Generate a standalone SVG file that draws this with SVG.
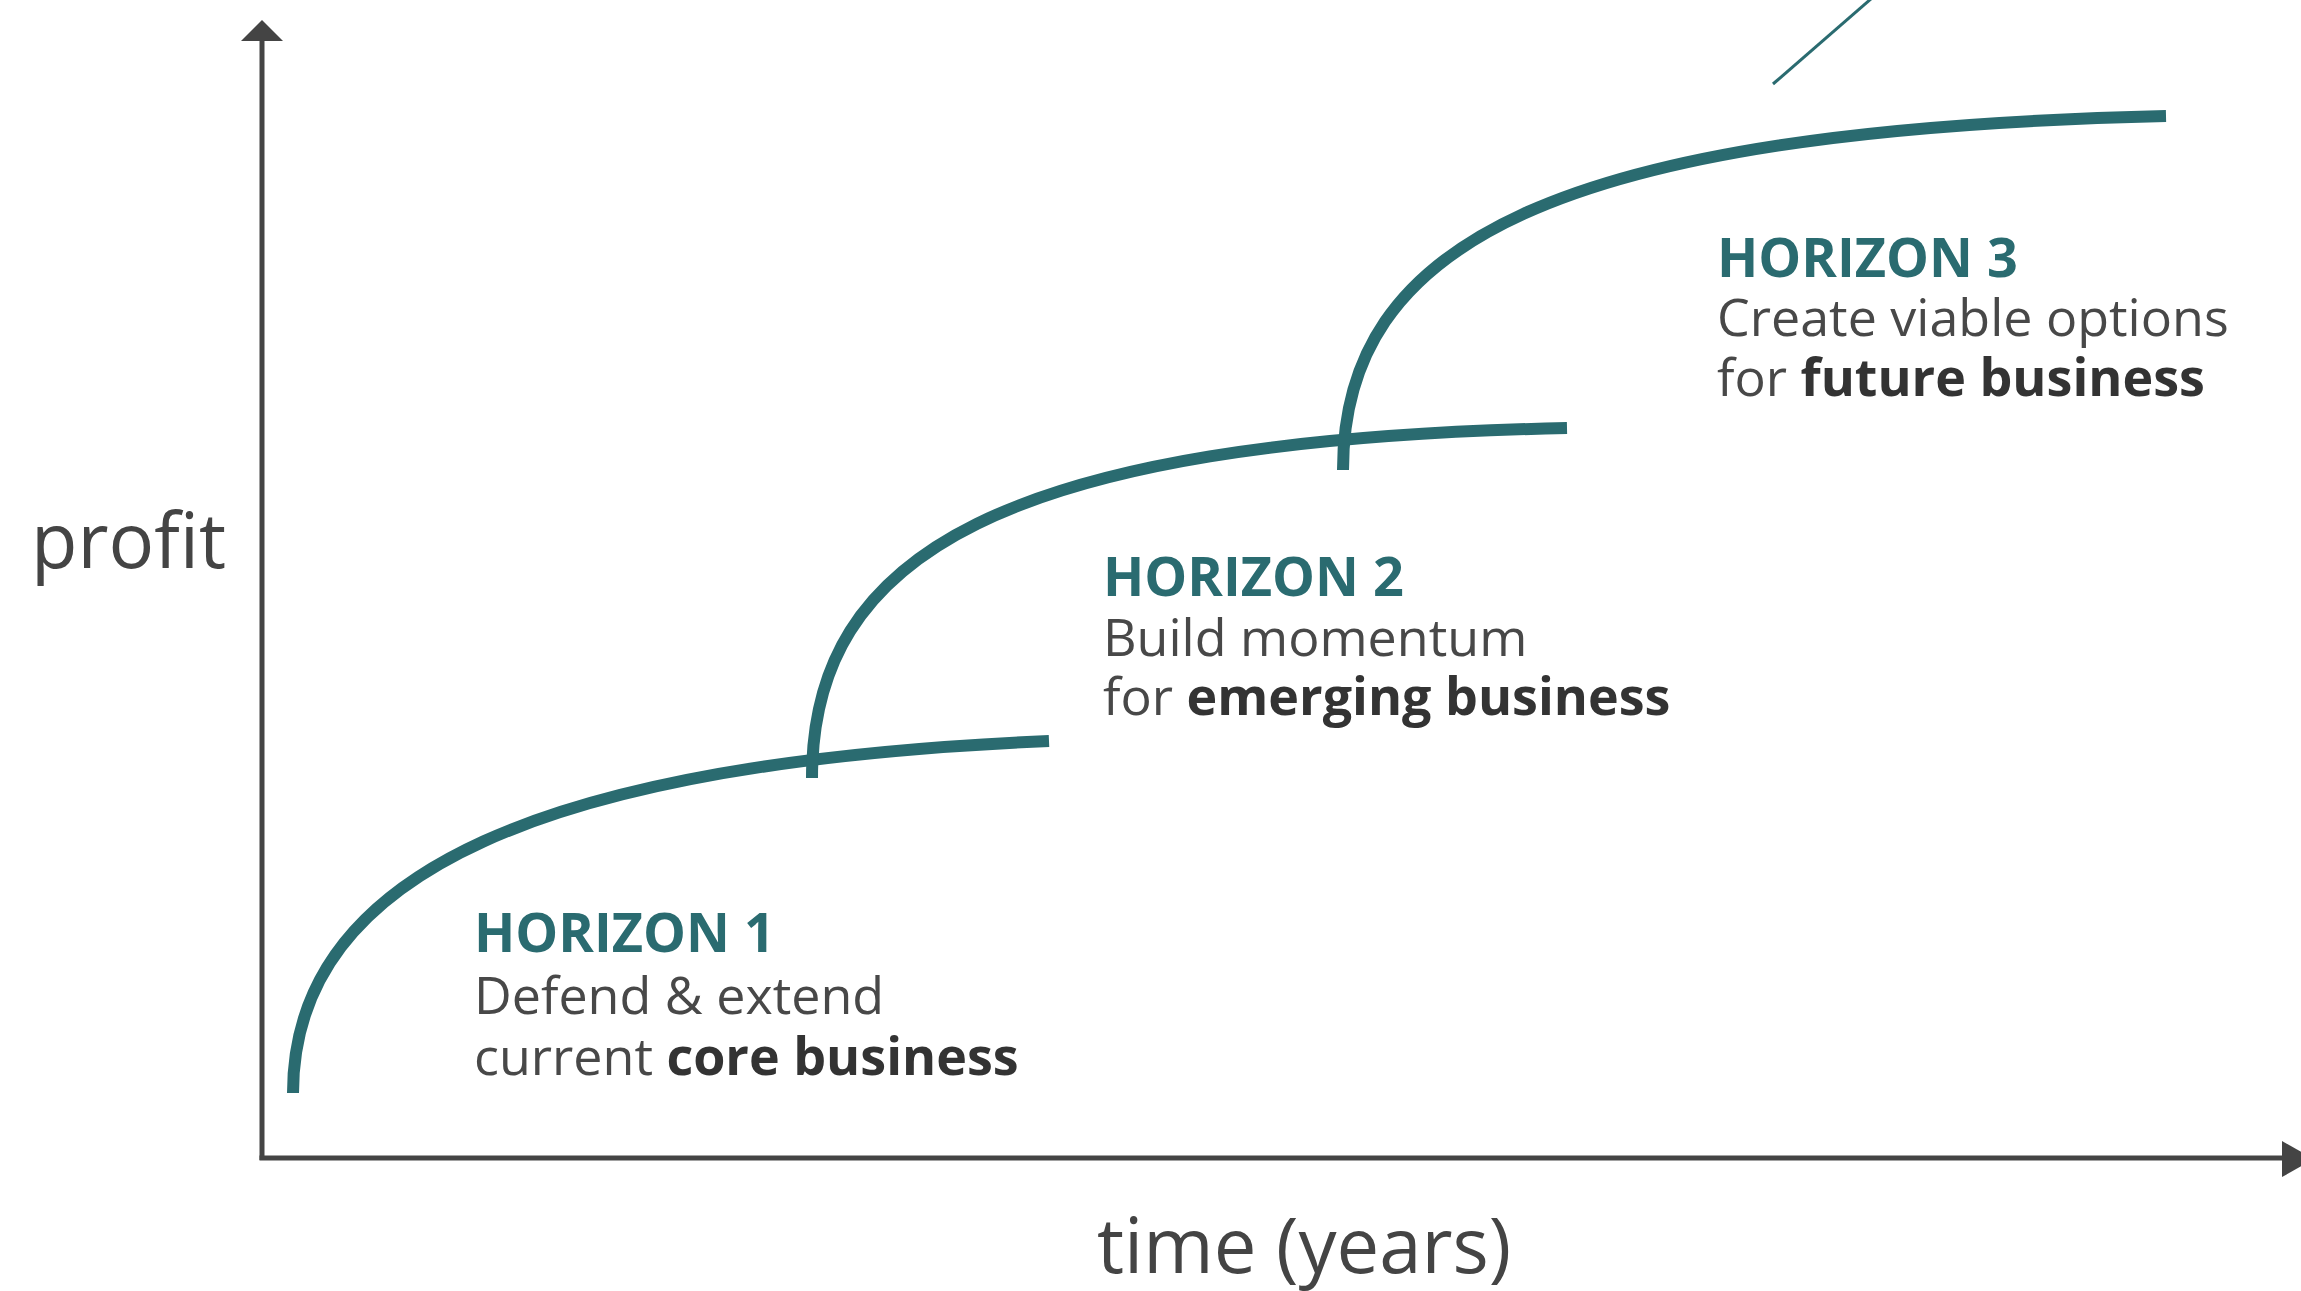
<svg xmlns="http://www.w3.org/2000/svg" width="2301" height="1291" viewBox="0 0 2301 1291">
<style>
.axis{stroke:#444;stroke-width:5;fill:none}
.head{fill:#444}
.curve{stroke:#2a6b70;stroke-width:12;fill:none;stroke-linecap:butt}
.title{font-family:"Open Sans",sans-serif;font-weight:700;font-size:54px;fill:#2a6b70}
.body{font-family:"Open Sans",sans-serif;font-weight:400;font-size:52px;fill:#484848}
.body tspan.b{font-weight:700;fill:#333}
.axlabel{font-family:"Open Sans",sans-serif;font-size:76px;fill:#444}
</style>
<rect width="2301" height="1291" fill="#fff"/>
<g id="axes">
<line class="axis" x1="262" y1="38" x2="262" y2="1160"/>
<polygon class="head" points="262,20 241,41 283,41"/>
<line class="axis" x1="259.5" y1="1158" x2="2285" y2="1158"/>
<polygon class="head" points="2314,1159 2282,1141 2282,1177"/>
<text class="axlabel" x="31" y="568">profit</text>
<text class="axlabel" x="1097" y="1273" font-size="80">time (years)</text>
</g>
<g id="connectors">
<path id="curve1" class="curve" d="M293,1093 C293,870 550,762 1049,741"/>
<path id="curve2" class="curve" d="M812,778 C812,555 1000,440 1567,428"/>
<path id="curve3" class="curve" d="M1343,470 C1343,245 1550,130 2166,116"/>
<line id="thin" x1="1773" y1="84" x2="1872" y2="-2" stroke="#2a6b70" stroke-width="3"/>
</g>
<g id="horizon1">
<text class="title" x="474" y="952">HORIZON 1</text>
<text class="body" x="474" y="1014">Defend &amp; extend</text>
<text class="body" x="474" y="1075">current <tspan class="b">core business</tspan></text>
</g>
<g id="horizon2">
<text class="title" x="1103" y="596">HORIZON 2</text>
<text class="body" x="1103" y="656">Build momentum</text>
<text class="body" x="1103" y="715">for <tspan class="b">emerging business</tspan></text>
</g>
<g id="horizon3">
<text class="title" x="1717" y="277">HORIZON 3</text>
<text class="body" x="1717" y="336">Create viable options</text>
<text class="body" x="1717" y="396">for <tspan class="b">future business</tspan></text>
</g>
</svg>
